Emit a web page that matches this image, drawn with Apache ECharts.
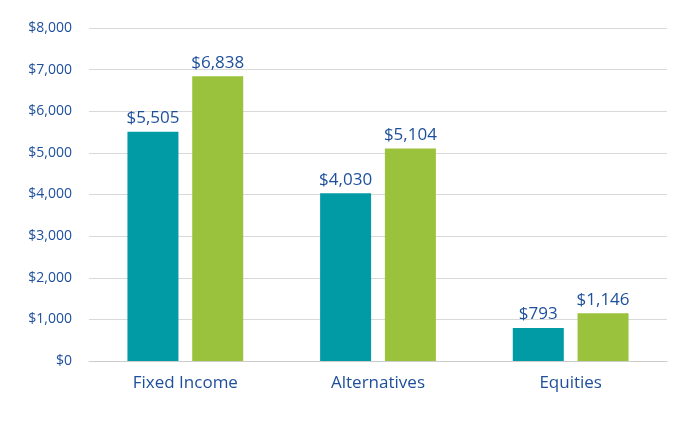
<!DOCTYPE html>
<html>
<head>
<meta charset="utf-8">
<script src="https://cdn.jsdelivr.net/npm/echarts@6/dist/echarts.min.js"></script>
<style>html,body{margin:0;padding:0;background:#fff}#chart{width:677px;height:434px}</style>
</head>
<body>
<div id="chart"></div>
<script>
const categories = ['Fixed Income', 'Alternatives', 'Equities'];
const seriesA = [5505, 4030, 793];
const seriesB = [6838, 5104, 1146];

const blue = '#1d4f9c';
const fmt = v => '$' + v.toLocaleString('en-US');

const chart = echarts.init(document.getElementById('chart'));
const label = {
  show: true, position: 'top', color: blue, fontSize: 17, fontWeight: 500,
  fontFamily: 'Open Sans', distance: 5,
  formatter: p => fmt(p.value)
};
chart.setOption({
  animation: false,
  grid: { left: 89, right: 10, top: 28, bottom: 73 },
  xAxis: {
    type: 'category', data: categories,
    axisLine: { lineStyle: { color: '#cccccc' } },
    axisTick: { show: false },
    axisLabel: { color: blue, fontSize: 17, fontFamily: 'Open Sans', margin: 14 }
  },
  yAxis: {
    type: 'value', min: 0, max: 8000, interval: 1000,
    axisLabel: { color: blue, fontSize: 14, fontFamily: 'Open Sans', formatter: fmt, margin: 17 },
    splitLine: { lineStyle: { color: '#d9d9d9' } }
  },
  series: [
    { type: 'bar', data: seriesA, barWidth: 51, barGap: '27%', itemStyle: { color: '#009ba5' }, label },
    { type: 'bar', data: seriesB, barWidth: 51, itemStyle: { color: '#9bc23c' }, label }
  ]
});
</script>
</body>
</html>
